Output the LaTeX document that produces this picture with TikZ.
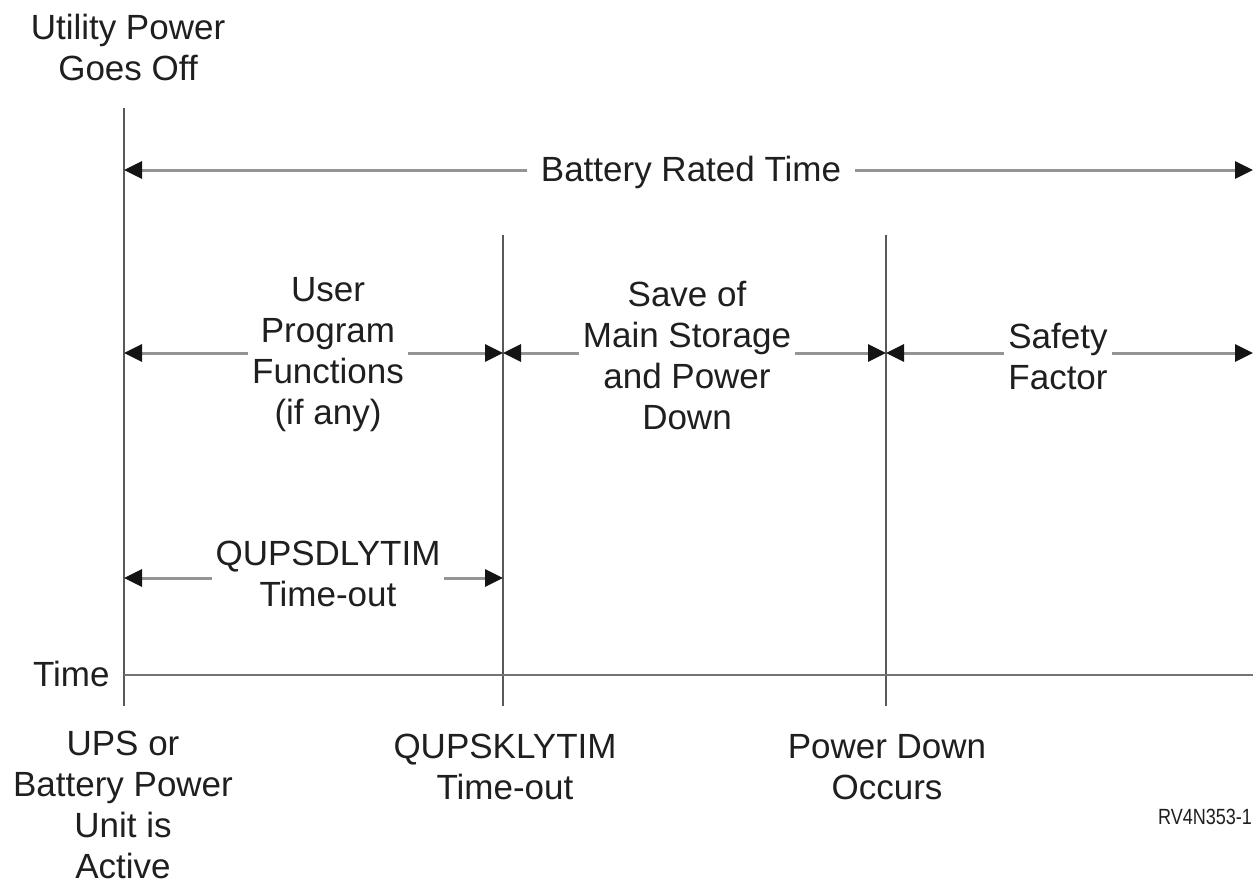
\documentclass[tikz,border=0pt]{standalone}
\usepackage{fontspec}
\setmainfont{Liberation Sans}
\usetikzlibrary{arrows.meta}
\begin{document}
\begin{tikzpicture}[x=0.5pt,y=-0.5pt,
  vline/.style={draw=black!65,line width=1.1pt},
  axis/.style={draw=black!55,line width=1pt},
  span/.style={draw=black!42,line width=1.5pt,
    {Triangle[length=9pt,width=8.5pt,color=black!92]}-{Triangle[length=9pt,width=8.5pt,color=black!92]}},
  lbl/.style={font=\fontsize{17.5}{20.5}\selectfont,text=black!88,align=center,inner sep=0pt},
  cut/.style={lbl,fill=white,inner xsep=2pt,inner ysep=1pt}]
\useasboundingbox (0,0) rectangle (1257,884);
% vertical lines
\coordinate (v0t) at (124,108); \coordinate (v0b) at (124,706);
\coordinate (v1t) at (503,235); \coordinate (v1b) at (503,706);
\coordinate (v2t) at (886,235); \coordinate (v2b) at (886,706);
\draw[vline] (v0t) -- (v0b);
\draw[vline] (v1t) -- (v1b);
\draw[vline] (v2t) -- (v2b);
% time axis
\coordinate (t0) at (124,675); \coordinate (t1) at (1253,675);
\draw[axis] (t0) -- (t1);
% arrows
\coordinate (b0) at (124,170); \coordinate (b1) at (1253,170);
\draw[span] (b0) -- (b1);
\coordinate (m0) at (124,353); \coordinate (m1) at (503,353);
\coordinate (m2) at (886,353); \coordinate (m3) at (1253,353);
\draw[span] (m0) -- (m1);
\draw[span] (m1) -- (m2);
\draw[span] (m2) -- (m3);
\coordinate (q0) at (124,578); \coordinate (q1) at (503,578);
\draw[span] (q0) -- (q1);
% labels
\node[lbl] (util) at (128,47) {Utility Power\\Goes Off};
\node[cut,inner xsep=7pt] (bat) at (691,172) {Battery Rated Time};
\node[cut] (user) at (328,355) {User\\Program\\Functions\\(if any)};
\node[cut] (save) at (687,355) {Save of\\Main Storage\\and Power\\Down};
\node[cut] (safe) at (1058,356) {Safety\\Factor};
\node[cut] (qdly) at (328,574) {QUPSDLYTIM\\Time-out};
\node[lbl,anchor=east] (time) at (110,674) {Time};
\node[lbl] (ups) at (123,805) {UPS or\\Battery Power\\Unit is\\Active};
\node[lbl] (qkly) at (505,767) {QUPSKLYTIM\\Time-out};
\node[lbl] (pdown) at (887,767) {Power Down\\Occurs};
\node[lbl,font=\fontsize{11}{13}\selectfont,xscale=0.82] (rv) at (1205,817) {RV4N353-1};
\end{tikzpicture}
\end{document}
